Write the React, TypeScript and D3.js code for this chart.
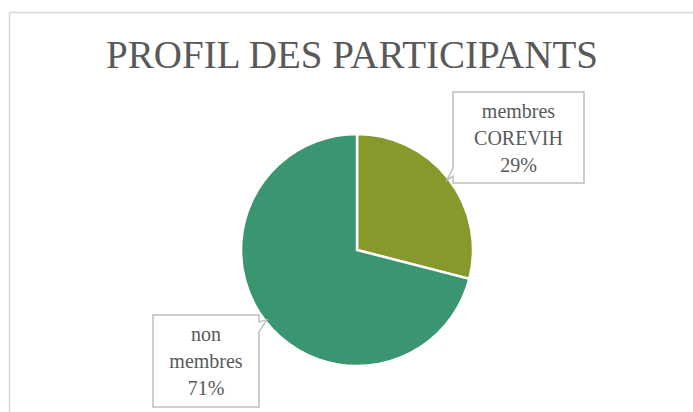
import { useMemo } from "react";
import * as d3 from "d3";

const WIDTH = 693;
const HEIGHT = 412;

const categories = ["membres COREVIH", "non membres"];
const values = [29, 71];
const labelLines = [
  ["membres", "COREVIH", "29%"],
  ["non", "membres", "71%"],
];
const colors = ["#86992B", "#3A9571"];

const CENTER = { x: 357, y: 250 };
const RADIUS = 116;
// callout boxes: x, y, w, h, which side the notch sits on
const BOXES = [
  { x: 453, y: 92, w: 131, h: 91, side: "left" },
  { x: 153, y: 315, w: 106, h: 92, side: "right" },
];
const FONT = '"Liberation Serif", "Times New Roman", serif';

const calloutPath = (b, tip) => {
  const { x, y, w, h } = b;
  if (b.side === "left") {
    const y1 = tip[1] - 12;
    const y2 = tip[1] - 4;
    return `M${x},${y} H${x + w} V${y + h} H${x} V${y2} L${tip[0]},${tip[1]} L${x},${y1} Z`;
  }
  const y1 = tip[1] + 2;
  const y2 = tip[1] + 12;
  return `M${x},${y} H${x + w} V${y1} L${tip[0]},${tip[1]} L${x + w},${y2} V${y + h} H${x} Z`;
};

export default function App() {
  const arcs = useMemo(
    () => d3.pie<number>().sort(null).value((d) => d)(values),
    []
  );
  const arcGen = d3.arc<d3.PieArcDatum<number>>().innerRadius(0).outerRadius(RADIUS);

  return (
    <svg
      width={WIDTH}
      height={HEIGHT}
      style={{ position: "absolute", left: 0, top: 0, background: "#fff" }}
    >
      <rect x={9.5} y={12.5} width={700} height={420} fill="#fff" stroke="#d9d9d9" strokeWidth={1.5} />
      <text
        x={352}
        y={68}
        textAnchor="middle"
        style={{ fontFamily: FONT, fontSize: 39 }}
        fill="#595959"
      >
        PROFIL DES PARTICIPANTS
      </text>
      <g transform={`translate(${CENTER.x},${CENTER.y})`}>
        {arcs.map((a, i) => (
          <path key={categories[i]} d={arcGen(a) || ""} fill={colors[i]} stroke="#fff" strokeWidth={2.5} />
        ))}
      </g>
      {arcs.map((a, i) => {
        const mid = (a.startAngle + a.endAngle) / 2;
        const tip = [CENTER.x + (RADIUS - 2) * Math.sin(mid), CENTER.y - (RADIUS - 2) * Math.cos(mid)];
        const b = BOXES[i];
        return (
          <g key={categories[i]}>
            <path d={calloutPath(b, tip)} fill="#fff" stroke="#bfbfbf" strokeWidth={1.5} />
            {labelLines[i].map((t, j) => (
              <text
                key={j}
                x={b.x + b.w / 2}
                y={b.y + 26 + j * 27}
                textAnchor="middle"
                style={{ fontFamily: FONT, fontSize: 20 }}
                fill="#595959"
              >
                {t}
              </text>
            ))}
          </g>
        );
      })}
    </svg>
  );
}
